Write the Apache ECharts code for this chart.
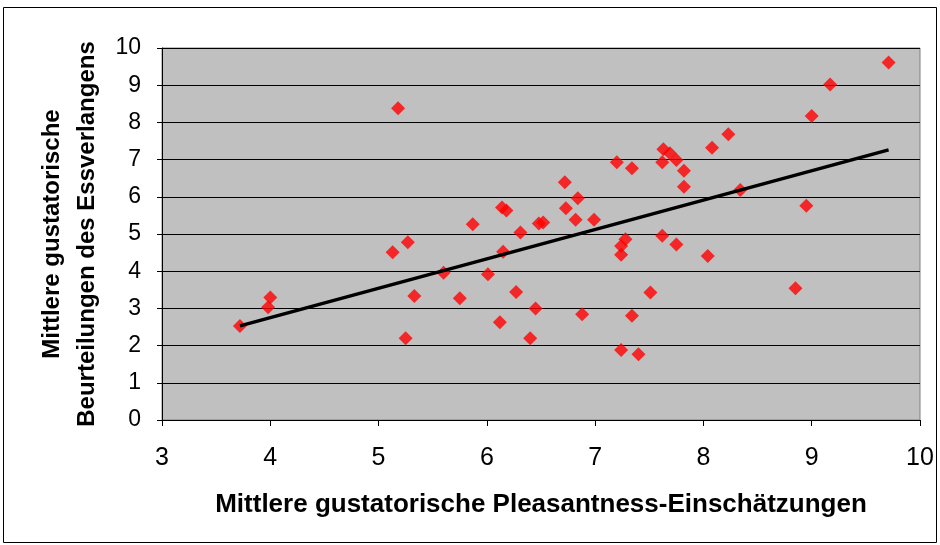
<!DOCTYPE html>
<html>
<head>
<meta charset="utf-8">
<script src="https://cdn.jsdelivr.net/npm/echarts@6/dist/echarts.min.js"></script>
<style>
  html, body { margin: 0; padding: 0; background: #fff; }
  #chart { width: 940px; height: 545px; }
</style>
</head>
<body>
<div id="chart"></div>
<script>
// pleasantness (x) vs. craving (y)
const pleasantness = [
  3.72, 4.00, 3.98, 5.13, 5.27, 5.25, 5.33, 5.18, 5.60, 5.75,
  5.87, 6.01, 6.15, 6.14, 6.18, 6.31, 6.27, 6.12, 6.40, 6.45,
  6.48, 6.52, 6.73, 6.72, 6.84, 6.82, 6.99, 6.88, 7.20, 7.34,
  7.63, 7.69, 7.75, 7.62, 7.82, 7.82, 8.08, 8.23, 8.34, 7.28,
  7.24, 7.24, 7.62, 7.75, 8.04, 7.51, 7.34, 7.24, 7.40, 8.85,
  8.95, 9.00, 9.17, 9.71
];
const craving = [
  2.53, 3.29, 3.03, 4.51, 4.78, 2.20, 3.33, 8.38, 3.96, 3.27,
  5.26, 3.92, 4.52, 5.71, 5.63, 5.04, 3.44, 2.63, 2.20, 3.00,
  5.28, 5.31, 5.69, 6.39, 5.96, 5.38, 5.38, 2.84, 6.93, 6.77,
  7.28, 7.17, 6.99, 6.93, 6.70, 6.27, 7.32, 7.68, 6.18, 4.86,
  4.68, 4.44, 4.95, 4.72, 4.41, 3.43, 2.80, 1.88, 1.77, 3.54,
  5.76, 8.17, 9.02, 9.61
];
// trend line end points
const trendX = [3.72, 9.71];
const trendY = [2.53, 7.26];

const xTicks = [3, 4, 5, 6, 7, 8, 9, 10];
const yTicks = [0, 1, 2, 3, 4, 5, 6, 7, 8, 9, 10];

const chart = echarts.init(document.getElementById("chart"));

chart.setOption({
  animation: false,
  backgroundColor: "#ffffff",
  graphic: [
    {
      type: "rect",
      shape: { x: 3.5, y: 7.5, width: 933, height: 535 },
      style: { fill: "none", stroke: "#000", lineWidth: 1 },
      z: -1
    }
  ],
  grid: {
    left: 162, top: 48, width: 758, height: 372,
    show: true, backgroundColor: "#c0c0c0", borderColor: "#808080", borderWidth: 1
  },
  xAxis: {
    type: "value",
    min: xTicks[0], max: xTicks[xTicks.length - 1], interval: 1,
    name: "Mittlere gustatorische Pleasantness-Einschätzungen",
    nameLocation: "middle", nameGap: 72,
    nameTextStyle: { fontFamily: "Liberation Sans", fontWeight: "bold", fontSize: 26, color: "#000" },
    axisLine: { show: true, lineStyle: { color: "#000", width: 1 } },
    axisTick: { show: true, inside: false, length: 6, lineStyle: { color: "#000" } },
    axisLabel: { fontFamily: "Liberation Sans", fontSize: 25, color: "#000", margin: 26 },
    splitLine: { show: false }
  },
  yAxis: {
    type: "value",
    min: yTicks[0], max: yTicks[yTicks.length - 1], interval: 1,
    name: "Mittlere gustatorische\nBeurteilungen des Essverlangens",
    nameLocation: "middle", nameGap: 49,
    nameTextStyle: { fontFamily: "Liberation Sans", fontWeight: "bold", fontSize: 24, lineHeight: 35, color: "#000" },
    axisLine: { show: true, lineStyle: { color: "#000", width: 1 } },
    axisTick: { show: true, inside: false, length: 5, lineStyle: { color: "#000" } },
    axisLabel: { fontFamily: "Liberation Sans", fontSize: 23, color: "#000", margin: 21 },
    splitLine: { show: true, lineStyle: { color: "#000", width: 1 } }
  },
  series: [
    {
      type: "scatter",
      symbol: "diamond",
      symbolSize: 14,
      itemStyle: { color: "#ff0000" },
      data: pleasantness.map((x, i) => [x, craving[i]]),
      z: 3
    },
    {
      type: "line",
      symbol: "none",
      lineStyle: { color: "#000", width: 3.5 },
      data: trendX.map((x, i) => [x, trendY[i]]),
      z: 4
    }
  ]
});
</script>
</body>
</html>
